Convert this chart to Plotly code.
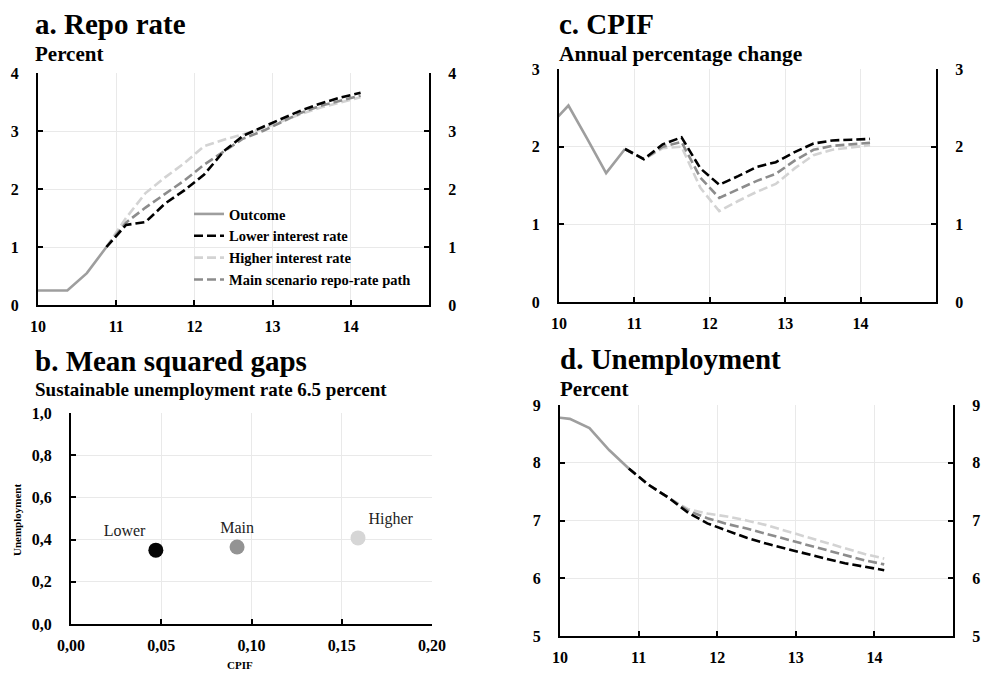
import plotly.graph_objects as go

# ---------------- data ----------------
hist_x = [9.875, 10.125, 10.375, 10.625, 10.875]
fc_x = [10.875, 11.125, 11.375, 11.625, 11.875, 12.125, 12.375, 12.625,
        12.875, 13.125, 13.375, 13.625, 13.875, 14.125]

repo_outcome = [0.25, 0.25, 0.25, 0.55, 1.0]
repo_lower = [1.0, 1.38, 1.43, 1.75, 1.98, 2.25, 2.65, 2.92, 3.07, 3.22, 3.36, 3.48, 3.58, 3.66]
repo_higher = [1.0, 1.5, 1.93, 2.2, 2.45, 2.74, 2.85, 2.95, 3.04, 3.17, 3.3, 3.41, 3.5, 3.58]
repo_main = [1.0, 1.42, 1.68, 1.92, 2.15, 2.42, 2.65, 2.87, 3.0, 3.16, 3.32, 3.44, 3.53, 3.61]

cpif_outcome = [2.27, 2.53, 2.1, 1.66, 1.97]
cpif_lower = [1.97, 1.84, 2.03, 2.12, 1.72, 1.51, 1.62, 1.74, 1.8, 1.93, 2.04, 2.08, 2.09, 2.1]
cpif_main = [1.97, 1.84, 2.0, 2.06, 1.6, 1.34, 1.45, 1.56, 1.65, 1.82, 1.96, 2.01, 2.03, 2.05]
cpif_higher = [1.97, 1.84, 1.98, 2.0, 1.47, 1.17, 1.3, 1.42, 1.52, 1.72, 1.89, 1.96, 1.99, 2.02]

unemp_outcome = [8.8, 8.76, 8.6, 8.22, 7.9]
unemp_lower = [7.9, 7.62, 7.4, 7.14, 6.95, 6.82, 6.7, 6.6, 6.51, 6.42, 6.34, 6.26, 6.2, 6.14]
unemp_main = [7.9, 7.62, 7.4, 7.17, 7.04, 6.94, 6.86, 6.77, 6.68, 6.59, 6.49, 6.4, 6.31, 6.24]
unemp_higher = [7.9, 7.62, 7.4, 7.2, 7.12, 7.07, 7.0, 6.92, 6.82, 6.72, 6.62, 6.52, 6.42, 6.34]

msg_labels = ["Lower", "Main", "Higher"]
msg_cpif = [0.047, 0.092, 0.159]
msg_unemp = [0.35, 0.365, 0.408]

year_ticks = [10, 11, 12, 13, 14]
year_labels = ["10", "11", "12", "13", "14"]
msg_x_ticks = [0.0, 0.05, 0.10, 0.15, 0.20]
msg_x_labels = ["0,00", "0,05", "0,10", "0,15", "0,20"]
msg_y_ticks = [0.0, 0.2, 0.4, 0.6, 0.8, 1.0]
msg_y_labels = ["0,0", "0,2", "0,4", "0,6", "0,8", "1,0"]

# ---------------- style ----------------
FONT = "Liberation Serif"
C_OUT = "#9e9e9e"
C_LOW = "#000000"
C_HIGH = "#d3d3d3"
C_MAIN = "#8c8c8c"
DASH = "9px,4px"
LW = 2.6
W, H = 981, 674


def px_x(a, b):
    return [a / W, b / W]


def px_y(top, bottom):
    return [1 - bottom / H, 1 - top / H]


fig = go.Figure()

panels = [
    ("x", "y", "y5", repo_outcome, repo_lower, repo_higher, repo_main),
    ("x3", "y3", "y6", cpif_outcome, cpif_lower, cpif_higher, cpif_main),
    ("x4", "y4", "y7", unemp_outcome, unemp_lower, unemp_higher, unemp_main),
]

for i, (xa, ya, yr, out, low, high, main) in enumerate(panels):
    show = i == 0
    fig.add_trace(go.Scatter(x=hist_x, y=out, xaxis=xa, yaxis=ya, mode="lines",
                             line=dict(color=C_OUT, width=LW), name="Outcome",
                             legendrank=1, showlegend=show))
    fig.add_trace(go.Scatter(x=fc_x, y=high, xaxis=xa, yaxis=ya, mode="lines",
                             line=dict(color=C_HIGH, width=LW, dash=DASH),
                             name="Higher interest rate", legendrank=3, showlegend=show))
    fig.add_trace(go.Scatter(x=fc_x, y=main, xaxis=xa, yaxis=ya, mode="lines",
                             line=dict(color=C_MAIN, width=LW, dash=DASH),
                             name="Main scenario repo-rate path", legendrank=4, showlegend=show))
    fig.add_trace(go.Scatter(x=fc_x, y=low, xaxis=xa, yaxis=ya, mode="lines",
                             line=dict(color=C_LOW, width=LW, dash=DASH),
                             name="Lower interest rate", legendrank=2, showlegend=show))
    fig.add_trace(go.Scatter(x=fc_x[:1], y=low[:1], xaxis=xa, yaxis=yr, mode="lines",
                             line=dict(width=0), opacity=0, showlegend=False, hoverinfo="skip"))

fig.add_trace(go.Scatter(x=msg_cpif, y=msg_unemp, xaxis="x2", yaxis="y2", mode="markers+text",
                         text=msg_labels,
                         textposition=["top left", "top center", "top right"],
                         textfont=dict(family=FONT, size=16, color="#222222"),
                         marker=dict(size=15, color=["#050505", "#939393", "#d6d6d6"]),
                         showlegend=False))

axis_common = dict(showline=True, linecolor="black", linewidth=2, ticks="inside",
                   ticklen=5, tickwidth=2, tickcolor="black", showgrid=True,
                   gridcolor="#e9e9e9", gridwidth=1, zeroline=False, automargin=False,
                   tickfont=dict(family=FONT, size=16, color="black", weight="bold"))
X_STAND = 6
Y_STAND = 14

dom = {
    "a": (px_x(38, 429), px_y(73, 305)),
    "b": (px_x(71, 432), px_y(413, 624)),
    "c": (px_x(559, 936), px_y(69, 302)),
    "d": (px_x(560, 953), px_y(405, 636)),
}

layout = dict(
    width=W, height=H, autosize=False,
    margin=dict(l=0, r=0, t=0, b=0, pad=0, autoexpand=False),
    paper_bgcolor="white", plot_bgcolor="white",
    font=dict(family=FONT, color="black"),
    showlegend=True,
    legend=dict(x=189 / W, y=1 - 198 / H, xanchor="left", yanchor="top",
                bgcolor="rgba(0,0,0,0)", itemwidth=30, tracegroupgap=0,
                font=dict(family=FONT, size=14.5, color="black", weight="bold")),
)

for key, xa, ya, yr, rng in [("a", "xaxis", "yaxis", "yaxis5", [0, 4]),
                             ("c", "xaxis3", "yaxis3", "yaxis6", [0, 3]),
                             ("d", "xaxis4", "yaxis4", "yaxis7", [5, 9])]:
    xd, yd = dom[key]
    anchor_y = ya.replace("axis", "")
    anchor_x = xa.replace("axis", "")
    layout[xa] = dict(axis_common, domain=xd, range=[10, 15], tickvals=year_ticks,
                      ticktext=year_labels, anchor=anchor_y, ticklabelstandoff=X_STAND)
    layout[ya] = dict(axis_common, domain=yd, range=rng, dtick=1, anchor=anchor_x,
                      ticklabelstandoff=Y_STAND)
    layout[yr] = dict(axis_common, range=rng, dtick=1, overlaying=anchor_y, side="right",
                      anchor=anchor_x, showgrid=False, ticklabelstandoff=Y_STAND)

xd, yd = dom["b"]
layout["xaxis2"] = dict(axis_common, domain=xd, range=[0, 0.2], tickvals=msg_x_ticks,
                        ticktext=msg_x_labels, anchor="y2", ticklabelstandoff=X_STAND)
layout["yaxis2"] = dict(axis_common, domain=yd, range=[0, 1.0], tickvals=msg_y_ticks,
                        ticktext=msg_y_labels, anchor="x2", ticklabelstandoff=Y_STAND)

fig.update_layout(**layout)


def ann(text, xpx, ypx, size, bold=True, anchor="left", angle=0):
    fig.add_annotation(text=text, x=xpx / W, y=1 - ypx / H,
                       xref="paper", yref="paper", textangle=angle,
                       xanchor=anchor, yanchor="middle", showarrow=False,
                       font=dict(family=FONT, size=size, color="black",
                                 weight="bold" if bold else "normal"))


ann("a. Repo rate", 33, 24, 29)
ann("Percent", 33, 54, 21)
ann("c. CPIF", 557, 24, 29)
ann("Annual percentage change", 557, 54, 21.5)
ann("b. Mean squared gaps", 33, 361, 29)
ann("Sustainable unemployment rate 6.5 percent", 33, 389, 19)
ann("d. Unemployment", 558, 359, 29)
ann("Percent", 558, 389, 21)
# axis titles of panel b
ann("Unemployment", 17, 520, 11, anchor="center", angle=-90)
ann("CPIF", 240, 665, 11, anchor="center")

fig.write_html(
    "out.html",
    config={"displayModeBar": False},
    post_script="document.body.style.margin='0';document.body.style.overflow='hidden';",
)
